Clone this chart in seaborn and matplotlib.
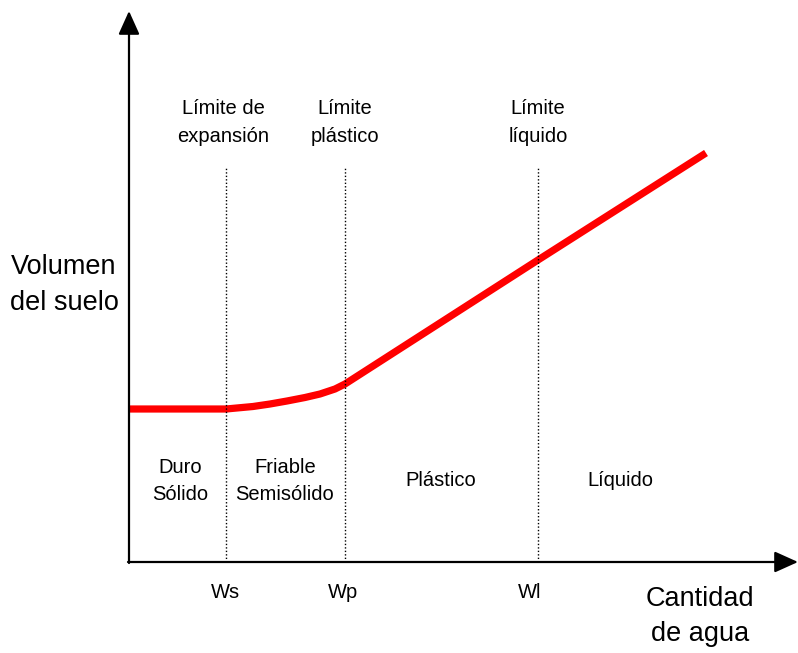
import matplotlib
matplotlib.use("Agg")
import matplotlib.pyplot as plt
import seaborn as sns
import pandas as pd

sns.set_theme(style="white")
plt.rcParams["font.family"] = ["Liberation Sans", "DejaVu Sans"]

# Soil volume vs. water content (schematic units)
water = [0, 97, 124, 141, 158, 176, 191, 206, 216, 409, 577]
volume = [153, 153, 155.5, 158, 161, 164.5, 168, 173, 178, 302, 409]

# Atterberg limits
limit_pos = [97, 216, 409]
limit_symbols = ["Ws", "Wp", "Wl"]
limit_names = ["Límite de\nexpansión", "Límite\nplástico", "Límite\nlíquido"]
limit_label_x = [94, 216, 409]
limit_symbol_x = [96, 214, 401]

# Consistency states
state_names = ["Duro\nSólido", "Friable\nSemisólido", "Plástico", "Líquido"]
state_x = [51, 156, 312, 491]

df = pd.DataFrame({"Cantidad de agua": water, "Volumen del suelo": volume})

fig = plt.figure(figsize=(7.98, 6.53), dpi=100)
ax = fig.add_axes([0, 0, 1, 1])
ax.set_xlim(-129, 669)
ax.set_ylim(-91, 562)
ax.axis("off")

sns.lineplot(data=df, x="Cantidad de agua", y="Volumen del suelo", ax=ax,
             color="#ff0000", linewidth=5.2, sort=False, estimator=None,
             solid_capstyle="butt", solid_joinstyle="round")

# axes with arrow heads
arrow = dict(arrowstyle="-|>,head_length=0.8,head_width=0.36", mutation_scale=18,
             lw=1.6, color="black", shrinkA=0, shrinkB=0)
ax.annotate("", xy=(0, 551), xytext=(0, -1), arrowprops=arrow)
ax.annotate("", xy=(669, 0), xytext=(-1, 0), arrowprops=arrow)

fs_small = 14.5
fs_big = 19.5

for xp, sym, name, lx, sx in zip(limit_pos, limit_symbols, limit_names,
                                 limit_label_x, limit_symbol_x):
    ax.plot([xp, xp], [0, 395], color="black", lw=1.0, ls=(0, (1, 1.5)))
    ax.text(lx, 439, name, ha="center", va="center",
            fontsize=fs_small, color="black", linespacing=1.6)
    ax.text(sx, -31, sym, ha="center", va="center", fontsize=fs_small, color="black")

for sx, name in zip(state_x, state_names):
    ax.text(sx, 81, name, ha="center", va="center", fontsize=fs_small,
            color="black", linespacing=1.5)

ax.text(-65, 276.5, "Volumen\ndel suelo", ha="center", va="center",
        fontsize=fs_big, color="black", linespacing=1.5)
ax.text(571, -54.5, "Cantidad\nde agua", ha="center", va="center",
        fontsize=fs_big, color="black", linespacing=1.45)

fig.savefig("out.png", dpi=100)
